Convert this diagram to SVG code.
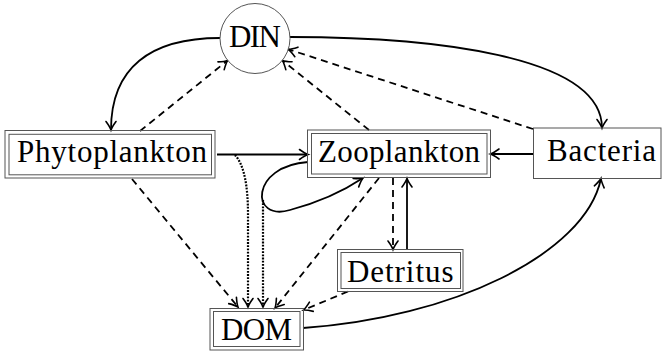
<svg xmlns="http://www.w3.org/2000/svg" width="662" height="353" viewBox="0 0 662 353">
<style>
.bg{fill:#fff}
.frame{fill:none;stroke:#555;stroke-width:1}
.lbl{font-family:"Liberation Serif",serif;font-size:31px;fill:#000}
.c{fill:none;stroke:#000;stroke-width:1.8}
.dash{stroke-dasharray:7 5}
.dot{stroke-width:2.2;stroke-dasharray:1.8 1.4}
</style>
<defs>
<marker id="arr" viewBox="-10 -6 12 12" refX="0" refY="0" markerWidth="12" markerHeight="12" markerUnits="userSpaceOnUse" orient="auto" overflow="visible">
<path d="M-8.5,-5 Q-3,-1 0,0 Q-3,1 -8.5,5" fill="none" stroke="#000" stroke-width="1.6" stroke-linecap="round"/>
</marker>
</defs>
<rect class="bg" x="0" y="0" width="662" height="353"/>

<g id="connectors">
<path class="c" d="M220,38 C150,38 111,68 111,130" marker-end="url(#arr)"/>
<path class="c dash" d="M140,131 L227.7,60.4" marker-end="url(#arr)"/>
<path class="c" d="M290,37 C430,37 602,55 602,128" marker-end="url(#arr)"/>
<path class="c dash" d="M533,129 L288.3,49.3" marker-end="url(#arr)"/>
<path class="c dash" d="M369,130 L282.3,60.4" marker-end="url(#arr)"/>
<path class="c" d="M217,154.5 L308,154.5" marker-end="url(#arr)"/>
<path class="c" d="M533,154 L490.5,154" marker-end="url(#arr)"/>
<path class="c" d="M308,162 C250,166 250,222 290,210 C320,202 345,190 363,178" marker-end="url(#arr)"/>
<path class="c dash" d="M132,179 L238,307" marker-end="url(#arr)"/>
<path class="c dot" d="M235,155 C244,165 248,185 248,215 L248,307" marker-end="url(#arr)"/>
<path class="c dot" d="M263,200 L263,307" marker-end="url(#arr)"/>
<path class="c dash" d="M379,178 L275,308" marker-end="url(#arr)"/>
<path class="c dash" d="M393,178 L393,249.5" marker-end="url(#arr)"/>
<path class="c" d="M407,250 L407,178.5" marker-end="url(#arr)"/>
<path class="c dash" d="M348,291.5 L303.5,310" marker-end="url(#arr)"/>
<path class="c" d="M303,328 C450,318 585,255 601,178.5" marker-end="url(#arr)"/>
</g>

<g id="DIN">
<circle cx="255" cy="38.5" r="35" fill="#fff" stroke="#555" stroke-width="1"/>
<text class="lbl" x="229" y="46.7" textLength="52">DIN</text>
</g>

<g id="Phytoplankton">
<rect class="frame" x="5" y="130.5" width="210" height="47.5" fill="#fff"/>
<rect class="frame" x="9" y="134.3" width="202.5" height="40.5"/>
<text class="lbl" x="17" y="162.3" textLength="190">Phytoplankton</text>
</g>

<g id="Zooplankton">
<rect class="frame" x="307.5" y="130" width="183" height="47.5" fill="#fff"/>
<rect class="frame" x="311.5" y="133.5" width="175.5" height="40.5"/>
<text class="lbl" x="318" y="161.7" textLength="162">Zooplankton</text>
</g>

<g id="Bacteria">
<rect class="frame" x="533.5" y="128" width="127.5" height="50.5" fill="#fff"/>
<text class="lbl" x="547" y="161" textLength="109">Bacteria</text>
</g>

<g id="Detritus">
<rect class="frame" x="337.5" y="249.5" width="125.5" height="42" fill="#fff"/>
<rect class="frame" x="341" y="252.5" width="119.5" height="36"/>
<text class="lbl" x="347" y="281.7" textLength="106.5">Detritus</text>
</g>

<g id="DOM">
<rect class="frame" x="210" y="308.5" width="93.5" height="41.5" fill="#fff"/>
<rect class="frame" x="213.5" y="311.5" width="86.5" height="35"/>
<text class="lbl" x="221" y="340" textLength="71">DOM</text>
</g>
</svg>
